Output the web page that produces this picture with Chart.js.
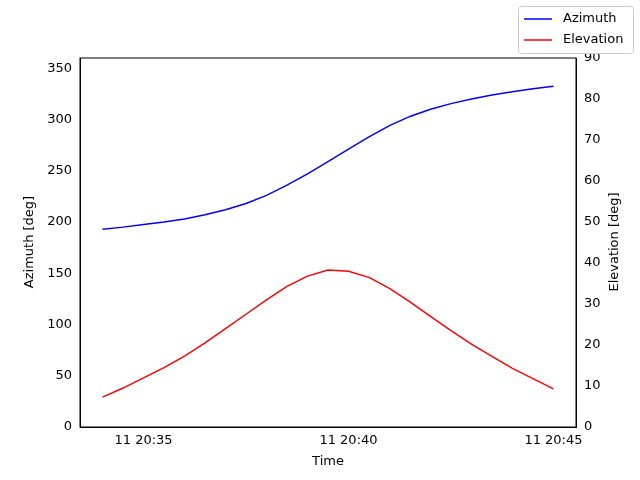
<!DOCTYPE html>
<html><head><meta charset="utf-8">
<script src="https://cdn.jsdelivr.net/npm/chart.js@4/dist/chart.umd.min.js"></script>
<style>body{margin:0;background:#fff}canvas{display:block}</style></head>
<body><canvas id="c" width="640" height="480"></canvas>
<script>
const times = [34,34.5,35,35.5,36,36.5,37,37.5,38,38.5,39,39.5,40,40.5,41,41.5,42,42.5,43,43.5,44,44.5,45];
const azimuth = [193,195,197.5,200,203,207,212,218,226,236,247,259,271,283,294,303,310,315.5,320,324,327,330,332.5];
const elevation = [7.3,9.5,12,14.5,17.3,20.5,24,27.5,31,34.3,36.8,38.3,38,36.5,33.8,30.5,27,23.5,20.2,17.2,14.3,11.8,9.3];
const xTicks = [35,40,45];
const xTickLabels = ['11 20:35','11 20:40','11 20:45'];
const font = {family:'DejaVu Sans', size:13};

const legendPlugin = {id:'lg', afterDraw(ch){
  const c=ch.ctx; c.save();
  const x=518,y=6,w=115,h=47;
  c.fillStyle='#fff'; c.strokeStyle='#ccc'; c.lineWidth=1;
  c.beginPath(); c.roundRect(x+0.5,y+0.5,w,h,3); c.fill(); c.stroke();
  c.font='13px DejaVu Sans'; c.textBaseline='middle';
  [['Azimuth','blue',19],['Elevation','red',40]].forEach(([t,col,yy])=>{
    c.strokeStyle=col; c.lineWidth=1.5; c.beginPath(); c.moveTo(x+6,yy); c.lineTo(x+34,yy); c.stroke();
    c.fillStyle='#000'; c.fillText(t,x+45,yy);
  });
  // axis titles
  c.fillStyle='#000'; c.textAlign='center'; c.textBaseline='middle';
  c.fillText('Time',328,462);
  c.save(); c.translate(30,242); c.rotate(-Math.PI/2); c.fillText('Azimuth [deg]',0,0); c.restore();
  c.save(); c.translate(615,242); c.rotate(-Math.PI/2); c.fillText('Elevation [deg]',0,0); c.restore();
  c.restore();
}};

new Chart(document.getElementById('c'), {
  type:'line',
  data:{datasets:[
    {label:'Azimuth', data:times.map((t,i)=>({x:t,y:azimuth[i]})), borderColor:'blue', borderWidth:1.5, pointRadius:0, yAxisID:'y'},
    {label:'Elevation', data:times.map((t,i)=>({x:t,y:elevation[i]})), borderColor:'red', borderWidth:1.5, pointRadius:0, yAxisID:'y1'}
  ]},
  options:{
    responsive:false, animation:false,
    layout:{padding:{top:58,bottom:0,left:0,right:0}},
    plugins:{legend:{display:false}, tooltip:{enabled:false}},
    scales:{
      x:{type:'linear', min:33.45, max:45.55,
        afterBuildTicks(a){a.ticks=xTicks.map(v=>({value:v}));},
        afterFit(a){a.height=53;},
        ticks:{color:'#000', font, maxRotation:0, padding:2, callback:(v)=>xTickLabels[xTicks.indexOf(v)]},
        grid:{display:false, drawTicks:true, tickLength:4, tickColor:'#000'},
        border:{color:'#000'}},
      y:{position:'left', min:0, max:360,
        afterBuildTicks(a){a.ticks=[0,50,100,150,200,250,300,350].map(v=>({value:v}));},
        afterFit(a){a.width=80;},
        ticks:{color:'#000', font, padding:4},
        grid:{display:false, drawTicks:true, tickLength:4, tickColor:'#000'},
        border:{color:'#000'}},
      y1:{position:'right', min:0, max:90,
        ticks:{stepSize:10,color:'#000', font, padding:4},
        afterFit(a){a.width=64;},
        grid:{display:false, drawTicks:true, tickLength:4, tickColor:'#000'},
        border:{color:'#000'}}
    }
  },
  plugins:[legendPlugin, {id:'box',afterDraw(ch){const a=ch.chartArea,c=ch.ctx;c.save();c.strokeStyle='#000';c.lineWidth=1;c.strokeRect(a.left,a.top,a.right-a.left,a.bottom-a.top);c.restore();}}]
});
</script></body></html>
